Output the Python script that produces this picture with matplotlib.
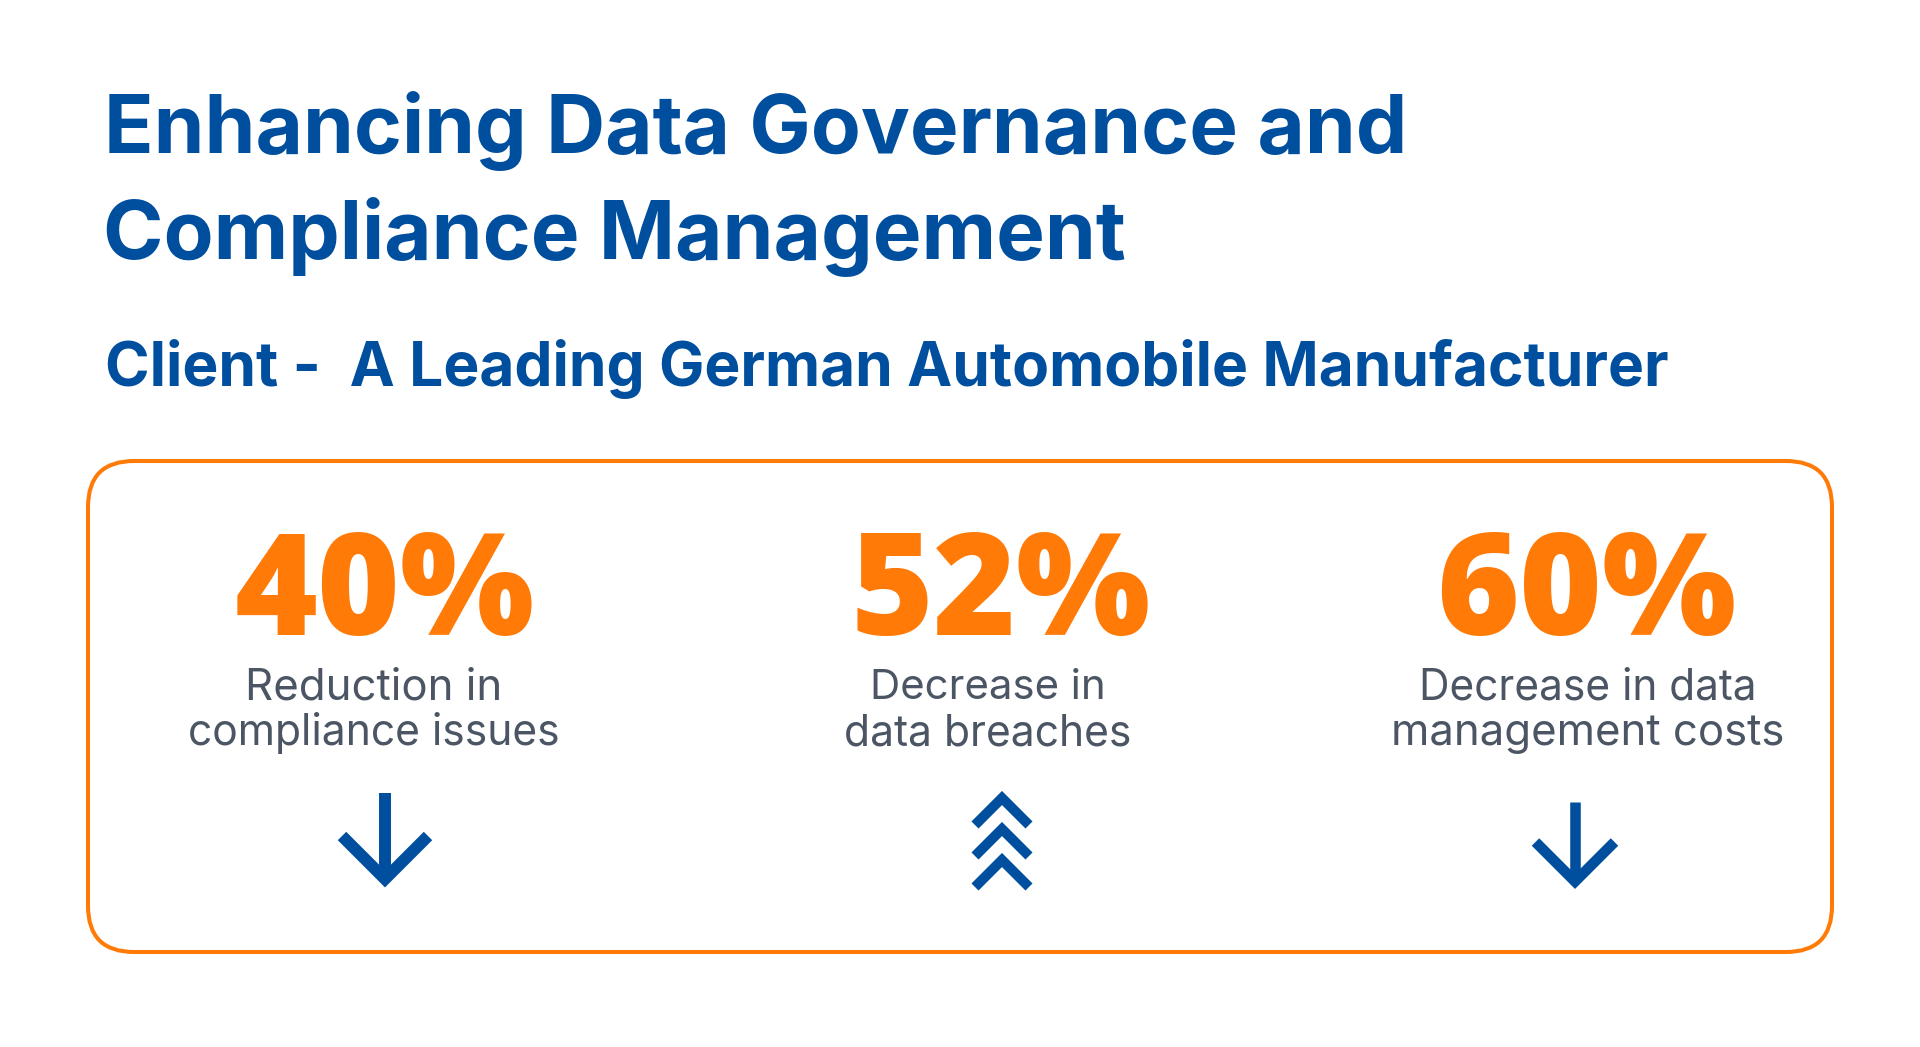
import matplotlib
matplotlib.use("Agg")
import matplotlib.pyplot as plt
from matplotlib.patches import FancyBboxPatch

W, H = 1920, 1047
BLUE = "#004f9f"
ORANGE = "#ff7a07"
GREY = "#4b5563"
FONT = "Inter"
PCT_FONT = "Open Sans"

title_lines = ["Enhancing Data Governance and", "Compliance Management"]
subtitle = "Client -  A Leading German Automobile Manufacturer"
percent_values = [40, 52, 60]
captions = [["Reduction in", "compliance issues"],
            ["Decrease in", "data breaches"],
            ["Decrease in data", "management costs"]]

fig = plt.figure(figsize=(W / 100, H / 100), dpi=100)
ax = fig.add_axes([0, 0, 1, 1])
ax.set_xlim(0, W)
ax.set_ylim(H, 0)
ax.axis("off")
renderer = fig.canvas.get_renderer()


def fit(x, y, s, width, color, weight, ha="left", family=FONT):
    t = ax.text(x, y, s, color=color, fontweight=weight, family=family,
                ha=ha, va="baseline", fontsize=40)
    w = t.get_window_extent(renderer).width
    t.set_fontsize(40 * width / w)
    return t


fit(104, 153, title_lines[0], 1305, BLUE, "bold")
fit(103, 259, title_lines[1], 1024, BLUE, "bold")
fit(105, 386, subtitle, 1566, BLUE, "bold")

ax.add_patch(FancyBboxPatch((88, 461), 1744, 491,
                            boxstyle="round,pad=0,rounding_size=46",
                            fc="none", ec=ORANGE, lw=2.9))

pct_x = [385, 1001, 1586]
for x, v in zip(pct_x, percent_values):
    ax.text(x, 635, f"{v}%", color=ORANGE, fontweight=800, family=PCT_FONT,
            ha="center", va="baseline", fontsize=102)

cap_x = [374, 988, 1588]
cap_w = [[257, 372], [236, 288], [338, 394]]
for x, ws, lines in zip(cap_x, cap_w, captions):
    for y, w, s in zip((699, 745), ws, lines):
        fit(x, y, s, w, GREY, "normal", ha="center")


def down_arrow(cx, top, apex, half, lw):
    ax.plot([cx, cx], [top, apex], color=BLUE, lw=lw, solid_capstyle="butt")
    ax.plot([cx - half, cx, cx + half], [apex - half, apex, apex - half], color=BLUE,
            lw=lw, solid_joinstyle="miter", solid_capstyle="butt")


down_arrow(385, 793, 879, 43, 8.6)
down_arrow(1575, 802, 881.5, 39.5, 7.6)

for apex in (798, 829, 860):
    ax.plot([975, 1002, 1029], [apex + 27, apex, apex + 27], color=BLUE, lw=7.2,
            solid_joinstyle="miter", solid_capstyle="butt")

fig.savefig("out.png", dpi=100, facecolor="white")
